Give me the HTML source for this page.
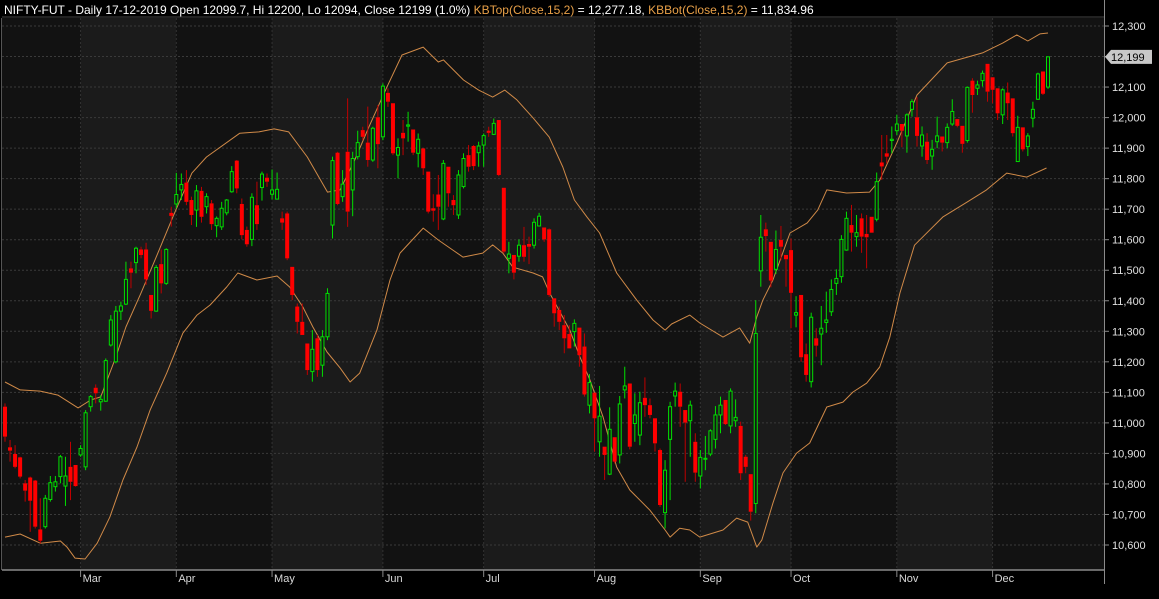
<!DOCTYPE html>
<html><head><meta charset="utf-8"><style>
html,body{margin:0;padding:0;background:#000;}
svg{display:block;font-family:"Liberation Sans",Arial,sans-serif;}
</style></head><body>
<svg id="chart" width="1159" height="599" viewBox="0 0 1159 599">
<rect x="0" y="0" width="1159" height="599" fill="#000"/>
<g id="bands-bg"></g>
<g id="grid"></g>
<g id="bbands"></g>
<g id="candles"></g>
<g id="axes"></g>
<text x="4" y="14" font-size="12" fill="#ffffff">NIFTY-FUT - Daily 17-12-2019 Open 12099.7, Hi 12200, Lo 12094, Close 12199 (1.0%) <tspan fill="#e8a048">KBTop(Close,15,2)</tspan> = 12,277.18, <tspan fill="#e8a048">KBBot(Close,15,2)</tspan> = 11,834.96</text>
</svg>
<script>
const opens=[11053,10920,10898,10887,10802,10821,10811,10651,10660,10749,10791,10824,10793,10856,10862,10895,10856,11053,11115,11069,11071,11255,11200,11366,11389,11506,11525,11568,11568,11419,11366,11520,11457,11688,11717,11763,11787,11730,11697,11760,11708,11719,11646,11642,11688,11757,11859,11717,11632,11601,11713,11771,11803,11749,11733,11670,11686,11511,11381,11331,11260,11168,11277,11189,11282,11648,11885,11741,11888,11763,11872,11959,11918,11861,12001,11937,12081,12047,11877,11950,11972,11961,11883,11899,11823,11703,11748,11668,11839,11730,11681,11774,11877,11907,11885,11910,11957,11945,11992,11770,11539,11550,11546,11582,11586,11582,11645,11640,11634,11408,11370,11320,11291,11299,11312,11250,11058,11099,10938,10922,10832,10953,10895,11108,11129,10998,10960,11082,11058,11015,10911,10706,10946,11088,11102,11042,11007,10938,10826,10881,10898,10946,11026,11075,10990,11007,10990,10889,10832,10736,11498,11634,11593,11503,11599,11550,11566,11353,11419,11225,11135,11277,11291,11329,11364,11457,11479,11566,11648,11610,11670,11619,11675,11667,11853,11883,11925,11957,11979,11940,12027,12001,11907,11921,11874,11921,11938,11918,11979,11995,11973,11925,12121,12096,12121,12176,12132,12096,12009,12082,12063,11856,11968,11905,11998,12060,12151,12100];
const highs=[11064,10944,10927,10889,10813,10824,10813,10753,10764,10826,10826,10895,10889,10938,10862,10927,11042,11091,11126,11091,11211,11353,11383,11397,11528,11528,11577,11577,11590,11419,11517,11568,11572,11708,11819,11817,11828,11741,11779,11773,11752,11730,11676,11724,11733,11841,11861,11735,11643,11752,11790,11823,11817,11830,11820,11692,11692,11511,11391,11391,11260,11304,11288,11304,11441,11872,11888,11828,12063,11888,11957,11970,12036,11970,12041,12112,12096,12047,11932,11992,12019,11961,11948,11899,11823,11749,11812,11861,11839,11746,11828,11883,11910,11910,11921,11948,11970,11997,11992,11770,11593,11550,11601,11642,11610,11670,11688,11640,11637,11408,11381,11353,11320,11339,11312,11293,11160,11099,11121,10922,11051,10953,11088,11184,11129,11097,11102,11149,11080,11015,10916,10878,11069,11132,11129,11042,11073,10966,10911,10957,10979,11055,11086,11075,11113,11077,11004,10895,10832,11402,11681,11656,11593,11630,11645,11550,11604,11415,11419,11260,11361,11310,11383,11430,11470,11503,11615,11692,11714,11681,11686,11681,11675,11820,11943,11943,11971,12009,11979,12014,12060,12067,11971,11949,11927,12003,11938,11981,12060,11995,11973,12102,12129,12121,12154,12176,12132,12096,12096,12115,12063,12006,11968,11949,12052,12147,12151,12200];
const lows=[10938,10873,10851,10818,10742,10643,10654,10605,10654,10742,10775,10802,10728,10747,10791,10889,10845,11037,11064,11040,11069,11250,11195,11337,11386,11441,11490,11539,11452,11342,11364,11424,11452,11643,11703,11730,11713,11648,11642,11656,11686,11632,11608,11632,11680,11754,11752,11601,11577,11579,11632,11728,11773,11732,11732,11632,11533,11402,11293,11288,11157,11135,11151,11151,11271,11604,11713,11724,11642,11677,11863,11926,11839,11855,11834,11926,12035,11877,11801,11877,11921,11877,11837,11812,11686,11659,11632,11664,11708,11681,11668,11768,11823,11828,11839,11839,11937,11943,11808,11555,11490,11470,11528,11528,11520,11571,11643,11593,11413,11315,11304,11228,11244,11250,11184,11086,11031,10906,10889,10813,10829,10867,10867,11080,10913,10938,10927,11020,11015,10906,10725,10654,10747,11053,10987,10807,10889,10807,10785,10845,10891,10916,10966,10993,10966,10987,10813,10835,10680,10704,11446,11561,11444,11488,11533,11446,11310,11313,11200,11135,11116,11217,11189,11295,11350,11419,11459,11564,11561,11577,11557,11506,11623,11660,11796,11850,11883,11943,11903,11885,12003,11905,11872,11848,11829,11900,11889,11900,11973,11968,11885,11918,12016,12074,12102,12052,12047,11992,11979,11992,11938,11856,11889,11874,11968,12058,12074,12094];
const closes=[10955,10909,10856,10824,10778,10745,10660,10614,10753,10804,10807,10889,10826,10807,10793,10916,11033,11086,11097,11077,11204,11337,11366,11383,11470,11492,11572,11550,11470,11367,11509,11457,11568,11678,11748,11781,11724,11681,11760,11675,11741,11651,11670,11703,11730,11823,11768,11615,11585,11739,11651,11815,11790,11763,11765,11656,11539,11419,11331,11288,11173,11241,11173,11282,11424,11859,11717,11782,11692,11866,11918,11937,11861,11965,11913,12103,12052,11883,11902,11932,11976,11885,11929,11834,11692,11695,11708,11850,11752,11713,11812,11866,11839,11841,11907,11941,11950,11981,11812,11561,11553,11492,11582,11544,11577,11657,11677,11601,11419,11359,11331,11277,11244,11326,11222,11093,11132,11015,11022,10895,10979,10873,11062,11121,10922,11026,11066,11058,11026,10933,10731,10845,11053,11104,11053,11001,11058,10837,10887,10884,10974,11026,11058,10996,11104,11018,10835,10856,10709,11293,11608,11612,11466,11568,11577,11536,11426,11361,11215,11157,11346,11253,11310,11337,11437,11473,11601,11670,11623,11623,11610,11608,11623,11790,11840,11872,11929,11979,11957,12009,12052,11940,11943,11861,11896,11940,11918,11968,12020,11973,11914,12099,12074,12107,12145,12085,12091,12014,12091,12047,11949,11968,11896,11940,12027,12143,12078,12199];
// KB band samples: bar position (may be fractional) and value
const topIdx=[0,3,7,10.5,14.5,17,19,22,24,27,30,33.3,37.1,40,46.6,50.4,53.4,56.3,60,64,66.5,69.4,72.4,75.8,78.8,83,86,87,91,94,96.8,99.2,101.6,104.8,108,110.7,113,115.5,118,121.4,125.4,128.6,131,132.3,135.9,137.9,142.5,145.8,147.8,149.2,150.4,152.4,155.8,159.2,161.3,163.1,167,171.6,173.6,177,181,187,194,198,200.8,203,205.4,207];
const topVal=[11134,11108,11104,11091,11049,11075,11085,11216,11314,11425,11543,11674,11818,11871,11949,11953,11963,11953,11871,11756,11763,11861,11976,12100,12205,12231,12182,12189,12123,12090,12067,12090,12058,11999,11936,11838,11730,11674,11622,11491,11402,11337,11304,11324,11353,11327,11281,11311,11261,11347,11402,11468,11622,11655,11697,11763,11753,11756,11795,11917,12074,12179,12212,12244,12271,12251,12274,12277];
const botIdx=[0,3,7,11,12.3,13.9,15.9,18.3,20.8,23.4,26.2,28.8,32.1,35.3,38.1,40.7,44,46.2,50,54,56.5,59.1,61.1,63.9,66.5,68.5,70.4,73.8,76.4,78.4,83,86,88.9,90.9,94.8,96.8,98.8,100.8,104.8,106.7,108.1,112.1,114.1,116.1,118.7,121.4,124,128,131,132,133.9,135.9,137.9,142.5,145.2,147.4,149.2,150.2,152.4,154.4,157.1,159.7,163.1,166.3,168.3,171,173.6,175.6,177.6,180.5,186.1,190.9,194.8,198.8,202.8,206.7];
const botVal=[10626,10636,10606,10613,10593,10557,10554,10606,10691,10813,10921,11042,11163,11294,11353,11386,11445,11491,11468,11481,11445,11380,11314,11232,11180,11134,11163,11304,11468,11556,11638,11599,11566,11543,11556,11583,11556,11510,11491,11478,11425,11304,11216,11140,11019,10855,10780,10714,10649,10626,10655,10649,10626,10649,10688,10675,10593,10616,10737,10836,10901,10934,11052,11068,11101,11130,11183,11281,11425,11582,11674,11723,11763,11818,11805,11835];
const yTicks=[10600,10700,10800,10900,11000,11100,11200,11300,11400,11500,11600,11700,11800,11900,12000,12100,12200,12300];
const monthNames=["Mar","Apr","May","Jun","Jul","Aug","Sep","Oct","Nov","Dec"];
const monthStartIdx=[15,34,53,75,95,117,138,156,177,196];

const NS="http://www.w3.org/2000/svg";
const PL=2,PR=1104,PT=18,PB=570;
const N=closes.length;
const step=(1048-5)/(N-1);
function xOf(i){return 5+i*step;}
function yOf(v){return 26+(12300-v)*0.30529;}
function mk(tag,attrs,parent){const e=document.createElementNS(NS,tag);for(const k in attrs)e.setAttribute(k,attrs[k]);parent.appendChild(e);return e;}
function fmt(v){return v.toLocaleString("en-US");}

const bg=document.getElementById("bands-bg");
const bounds=[PL].concat(monthStartIdx.map(xOf)).concat([PR]);
for(let m=0;m<bounds.length-1;m++){
  const dark=((bounds.length-2-m)%2)===0;
  const r=mk("rect",{x:bounds[m],y:PT,width:bounds[m+1]-bounds[m],height:PB-PT,fill:dark?"#121212":"#1b1b1b"},bg);
  
  
}
const grid=document.getElementById("grid");
yTicks.forEach(v=>{
  const l=mk("line",{x1:PL,x2:PR,y1:yOf(v),y2:yOf(v),stroke:"#3a3a3a","stroke-width":1,"stroke-dasharray":"2,2"},grid);
  
  
});
monthStartIdx.forEach(i=>{
  const l=mk("line",{x1:xOf(i),x2:xOf(i),y1:PT,y2:PB,stroke:"#333","stroke-width":1,"stroke-dasharray":"2,2"},grid);
  
  
});
const bb=document.getElementById("bbands");
const tl=mk("polyline",{points:topIdx.map((i,k)=>xOf(i).toFixed(1)+","+yOf(topVal[k]).toFixed(1)).join(" "),fill:"none",stroke:"#d08a48","stroke-width":1,"stroke-linejoin":"round"},bb);


const bl=mk("polyline",{points:botIdx.map((i,k)=>xOf(i).toFixed(1)+","+yOf(botVal[k]).toFixed(1)).join(" "),fill:"none",stroke:"#d08a48","stroke-width":1,"stroke-linejoin":"round"},bb);


const cg=document.getElementById("candles");
for(let i=0;i<N;i++){
  const up=closes[i]>=opens[i];
  const col=up?"#00e000":"#ff0000";
  const x=xOf(i);
  const g=mk("g",{},cg);
  
  
  const topB=yOf(Math.max(opens[i],closes[i])),botB=yOf(Math.min(opens[i],closes[i]));
  mk("line",{x1:x,x2:x,y1:yOf(highs[i]),y2:topB,stroke:up?col:"#c00000","stroke-width":1},g);
  mk("line",{x1:x,x2:x,y1:botB,y2:yOf(lows[i]),stroke:up?col:"#c00000","stroke-width":1},g);
  const h=Math.max(1,botB-topB);
  if(up) mk("rect",{x:x-1.5,y:topB,width:3,height:h,fill:"#141414",stroke:col,"stroke-width":1},g);
  else mk("rect",{x:x-2,y:topB,width:4,height:h,fill:col},g);
}
const ax=document.getElementById("axes");
const a1=mk("line",{x1:PL,x2:PR,y1:PB,y2:PB,stroke:"#8a8a8a","stroke-width":1.5},ax);


const a2=mk("line",{x1:PR+0.5,x2:PR+0.5,y1:0,y2:584,stroke:"#8a8a8a","stroke-width":1},ax);


const a3=mk("line",{x1:PL,x2:PR,y1:PT-1,y2:PT-1,stroke:"#444","stroke-width":1},ax);


const a4=mk("line",{x1:1.5,x2:1.5,y1:PT,y2:PB,stroke:"#555","stroke-width":1},ax);


yTicks.forEach(v=>{
  mk("line",{x1:PR,x2:PR+5,y1:yOf(v),y2:yOf(v),stroke:"#8a8a8a"},ax);
  const t=mk("text",{x:1112,y:yOf(v)+4,"font-size":11,fill:"#e0e0e0"},ax);
  t.textContent=fmt(v);
  
  
});
monthStartIdx.forEach((i,k)=>{
  mk("line",{x1:xOf(i),x2:xOf(i),y1:PB,y2:PB+7,stroke:"#8a8a8a"},ax);
  const t=mk("text",{x:xOf(i)+2,y:582,"font-size":11,fill:"#d8d8d8"},ax);
  t.textContent=monthNames[k];
  
  
});
const lc=closes[N-1],ly=yOf(lc);
const tag=mk("g",{},ax);


mk("polygon",{points:`${PR+1},${ly} ${PR+7},${ly-7} ${1152},${ly-7} ${1152},${ly+7} ${PR+7},${ly+7}`,fill:"#c8c8c8"},tag);
const tt=mk("text",{x:1111,y:ly+4,"font-size":11,fill:"#000"},tag);
tt.textContent=fmt(lc);
</script>
</body></html>
